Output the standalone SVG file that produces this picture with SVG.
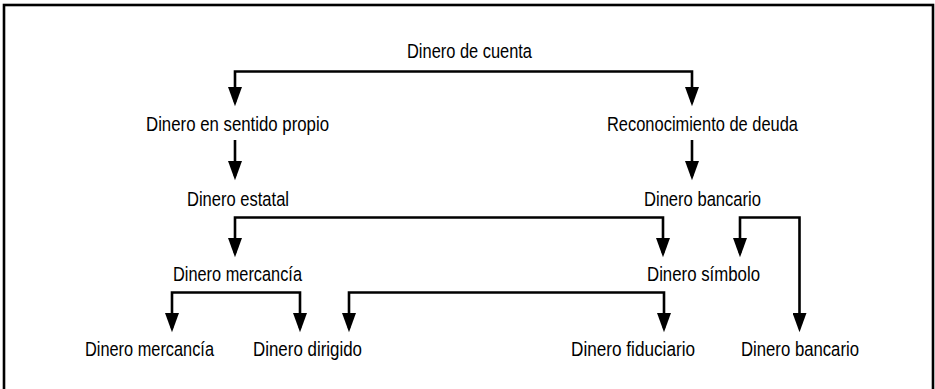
<svg xmlns="http://www.w3.org/2000/svg" width="935" height="389" viewBox="0 0 935 389">
<style>
.t{font-family:"Liberation Sans Narrow","Liberation Sans",Arial,sans-serif;font-size:20.5px;fill:#000}
.c{fill:none;stroke:#000;stroke-width:2.6;marker-end:url(#ah)}
.frame{fill:none;stroke:#000;stroke-width:2.6}
</style>
<defs>
<marker id="ah" markerUnits="userSpaceOnUse" markerWidth="20" markerHeight="14" refX="14" refY="6.5" orient="auto" viewBox="0 0 18 13">
<path d="M0,0 L18,6.5 L0,13 z" fill="#000"/>
</marker>
</defs>
<rect class="frame" x="4" y="5" width="929" height="420"/>
<g id="connectors">
<path class="c" d="M463,71.5 H235 V102"/>
<path class="c" d="M463,71.5 H692 V102"/>
<path class="c" d="M235,140 V176"/>
<path class="c" d="M692,140 V176"/>
<path class="c" d="M450,217.5 H235 V253"/>
<path class="c" d="M450,217.5 H663 V253"/>
<path class="c" d="M770,217.5 H740 V253"/>
<path class="c" d="M770,217.5 H799.5 V328"/>
<path class="c" d="M235,292.5 H172 V328"/>
<path class="c" d="M235,292.5 H300 V328"/>
<path class="c" d="M500,292.5 H349 V328"/>
<path class="c" d="M500,292.5 H664 V328"/>
</g>
<g id="n1"><text class="t" x="407" y="58" textLength="125" lengthAdjust="spacingAndGlyphs">Dinero de cuenta</text></g>
<g id="n2"><text class="t" x="146" y="131" textLength="183" lengthAdjust="spacingAndGlyphs">Dinero en sentido propio</text></g>
<g id="n3"><text class="t" x="607" y="131" textLength="191" lengthAdjust="spacingAndGlyphs">Reconocimiento de deuda</text></g>
<g id="n4"><text class="t" x="187" y="206" textLength="102" lengthAdjust="spacingAndGlyphs">Dinero estatal</text></g>
<g id="n5"><text class="t" x="644" y="206" textLength="117" lengthAdjust="spacingAndGlyphs">Dinero bancario</text></g>
<g id="n6"><text class="t" x="173" y="281" textLength="129" lengthAdjust="spacingAndGlyphs">Dinero mercancía</text></g>
<g id="n7"><text class="t" x="647" y="281" textLength="113" lengthAdjust="spacingAndGlyphs">Dinero símbolo</text></g>
<g id="n8"><text class="t" x="85" y="356" textLength="129" lengthAdjust="spacingAndGlyphs">Dinero mercancía</text></g>
<g id="n9"><text class="t" x="253" y="356" textLength="109" lengthAdjust="spacingAndGlyphs">Dinero dirigido</text></g>
<g id="n10"><text class="t" x="571" y="356" textLength="124" lengthAdjust="spacingAndGlyphs">Dinero fiduciario</text></g>
<g id="n11"><text class="t" x="741" y="356" textLength="118" lengthAdjust="spacingAndGlyphs">Dinero bancario</text></g>
</svg>
